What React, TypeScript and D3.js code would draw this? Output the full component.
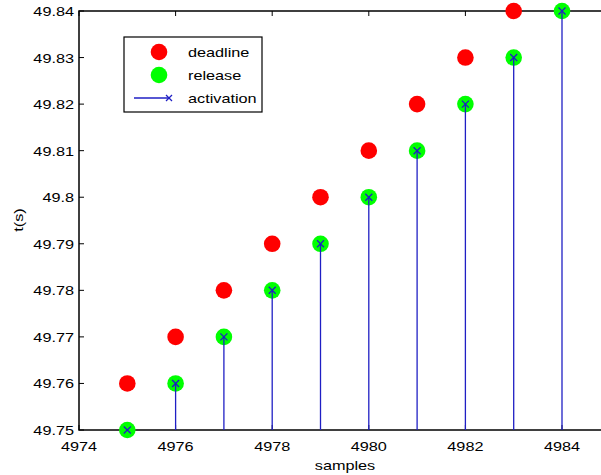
import React from "react";
import * as d3 from "d3";

// samples and times
const deadlineSamples = [4975, 4976, 4977, 4978, 4979, 4980, 4981, 4982, 4983];
const deadlineTimes = [49.76, 49.77, 49.78, 49.79, 49.8, 49.81, 49.82, 49.83, 49.84];
const releaseSamples = [4975, 4976, 4977, 4978, 4979, 4980, 4981, 4982, 4983, 4984];
const releaseTimes = [49.75, 49.76, 49.77, 49.78, 49.79, 49.8, 49.81, 49.82, 49.83, 49.84];
const activationTimes = [49.75, 49.76, 49.77, 49.78, 49.79, 49.8, 49.81, 49.82, 49.83, 49.84];
const xTicks = [4974, 4976, 4978, 4980, 4982, 4984];
const yTicks = [49.75, 49.76, 49.77, 49.78, 49.79, 49.8, 49.81, 49.82, 49.83, 49.84];
const legendLabels = ["deadline", "release", "activation"];

const FONT = "'Liberation Sans', Arial, Helvetica, sans-serif";
const STRETCH = 1.25; // the picture's text is a bit wide

const Label = ({ x, y, anchor, children, rotate }: any) => (
  <text
    transform={`translate(${x},${y})${rotate ? ` rotate(${rotate})` : ""} scale(${STRETCH},1)`}
    textAnchor={anchor}
    fontFamily={FONT}
    fontSize={13}
    fill="#000"
  >
    {children}
  </text>
);

export default function App() {
  const width = 601;
  const height = 475;
  const left = 79;
  const top = 11;
  const bottom = 430;
  const unit = 48.3;

  // x axis runs on to 4986, past the right edge of the picture
  const x = d3.scaleLinear().domain([4974, 4986]).range([left, left + 12 * unit]);
  const y = d3.scaleLinear().domain([49.75, 49.84]).range([bottom, top]);
  const right = x(4986);
  const tick = 5;
  const r = 8.3;
  const blue = "#1f1fc4";

  return (
    <svg
      width={width}
      height={height}
      style={{ position: "absolute", left: 0, top: 0, background: "#fff" }}
    >
      {/* axes box */}
      <rect x={left} y={top} width={right - left} height={bottom - top} fill="none" stroke="#000" strokeWidth={1.5} />
      {xTicks.map(t => (
        <g key={"x" + t}>
          <line x1={x(t)} x2={x(t)} y1={bottom} y2={bottom - tick} stroke="#000" />
          <line x1={x(t)} x2={x(t)} y1={top} y2={top + tick} stroke="#000" />
          <Label x={x(t)} y={451} anchor="middle">{t}</Label>
        </g>
      ))}
      {yTicks.map(t => (
        <g key={"y" + t}>
          <line x1={left} x2={left + tick} y1={y(t)} y2={y(t)} stroke="#000" />
          <line x1={right} x2={right - tick} y1={y(t)} y2={y(t)} stroke="#000" />
          <Label x={74} y={y(t) + 5} anchor="end">{d3.format("")(+t.toFixed(2))}</Label>
        </g>
      ))}
      <Label x={345} y={470} anchor="middle">samples</Label>
      <Label x={23} y={220} anchor="middle" rotate={-90}>t(s)</Label>

      {/* deadline */}
      {deadlineSamples.map((s, i) => (
        <circle key={"d" + s} cx={x(s)} cy={y(deadlineTimes[i])} r={r} fill="#ff0000" />
      ))}
      {/* release */}
      {releaseSamples.map((s, i) => (
        <circle key={"r" + s} cx={x(s)} cy={y(releaseTimes[i])} r={r} fill="#00ff00" />
      ))}
      {/* activation stems */}
      {releaseSamples.map((s, i) => {
        const cx = x(s);
        const cy = y(activationTimes[i]);
        return (
          <g key={"a" + s} stroke={blue} strokeWidth={1.3}>
            <line x1={cx} x2={cx} y1={y(49.75)} y2={cy} />
            <line x1={cx - 3.5} x2={cx + 3.5} y1={cy - 3.5} y2={cy + 3.5} />
            <line x1={cx - 3.5} x2={cx + 3.5} y1={cy + 3.5} y2={cy - 3.5} />
          </g>
        );
      })}

      {/* legend */}
      <rect x={124} y={37} width={138} height={75} fill="#fff" stroke="#000" strokeWidth={1.2} />
      {legendLabels.map((lab, i) => {
        const ly = 52 + i * 23;
        return (
          <g key={lab}>
            {i === 0 && <circle cx={159} cy={ly} r={r} fill="#ff0000" />}
            {i === 1 && <circle cx={159} cy={ly} r={r} fill="#00ff00" />}
            {i === 2 && (
              <g stroke={blue} strokeWidth={1.3}>
                <line x1={134} x2={169} y1={ly} y2={ly} />
                <line x1={166} x2={172} y1={ly - 3} y2={ly + 3} />
                <line x1={166} x2={172} y1={ly + 3} y2={ly - 3} />
              </g>
            )}
            <Label x={188} y={ly + 5} anchor="start">{lab}</Label>
          </g>
        );
      })}
    </svg>
  );
}
